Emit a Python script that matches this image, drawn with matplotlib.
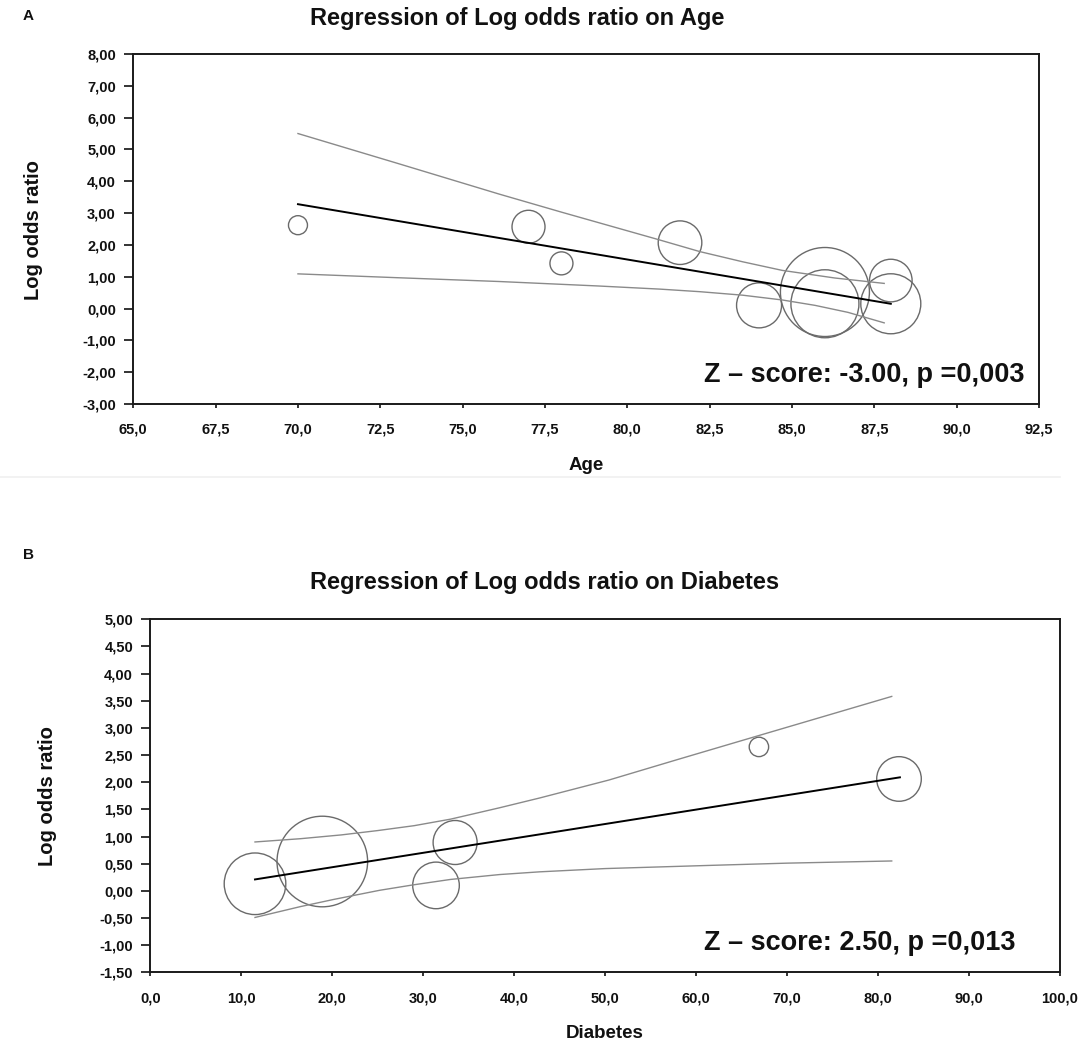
import matplotlib
matplotlib.use("Agg")
import matplotlib.pyplot as plt
from matplotlib.ticker import FuncFormatter, MultipleLocator
from matplotlib.lines import Line2D

plt.rcParams['font.family'] = ['Liberation Sans', 'DejaVu Sans']
plt.rcParams['font.weight'] = 'bold'

# ---------------- Data: panel A (Age) ----------------
age_x = [70.0, 77.0, 78.0, 81.6, 84.0, 86.0, 86.0, 88.0, 88.0]
age_lor = [2.62, 2.57, 1.42, 2.07, 0.10, 0.52, 0.15, 0.88, 0.15]
age_weight = [9.5, 16.5, 11.5, 21.8, 22.5, 44.5, 34.0, 21.3, 30.0]

age_fit_x = [70.0, 88.0]
age_fit_y = [3.28, 0.15]
age_upper_x = [70.0, 73.0, 76.1, 78.0, 80.9, 82.2, 83.5, 84.7, 86.3, 87.8]
age_upper_y = [5.50, 4.57, 3.60, 3.03, 2.18, 1.79, 1.47, 1.20, 0.96, 0.79]
age_lower_x = [70.0, 73.0, 76.1, 79.1, 81.0, 82.2, 83.5, 84.7, 85.7, 86.7, 87.8]
age_lower_y = [1.09, 0.97, 0.85, 0.71, 0.61, 0.53, 0.42, 0.27, 0.10, -0.12, -0.45]

# ---------------- Data: panel B (Diabetes) ----------------
diab_x = [11.5, 18.9, 31.4, 33.5, 66.9, 82.3]
diab_lor = [0.13, 0.54, 0.10, 0.89, 2.65, 2.06]
diab_weight = [30.8, 45.3, 23.3, 22.0, 9.7, 22.3]

diab_fit_x = [11.5, 82.4]
diab_fit_y = [0.21, 2.09]
diab_upper_x = [11.5, 16.5, 21.0, 25.0, 29.0, 33.0, 38.4, 42.8, 50.4, 58.0, 66.9, 74.0, 81.5]
diab_upper_y = [0.90, 0.96, 1.03, 1.11, 1.20, 1.32, 1.53, 1.71, 2.04, 2.42, 2.86, 3.21, 3.58]
diab_lower_x = [11.5, 16.5, 20.1, 25.2, 28.9, 33.0, 38.4, 42.8, 50.0, 61.8, 70.0, 81.5]
diab_lower_y = [-0.49, -0.29, -0.16, 0.01, 0.11, 0.21, 0.30, 0.35, 0.41, 0.47, 0.51, 0.55]

W, H, DPI = 1084, 1045, 100
fig = plt.figure(figsize=(W / DPI, H / DPI), dpi=DPI)
fig.patch.set_facecolor('white')


def fx(px):
    return px / W


def fy(py):
    return 1 - py / H


def comma_fmt(dec):
    return FuncFormatter(lambda v, p: f"{v:.{dec}f}".replace('.', ','))


def make_panel(rect, xlim, xstep, ylim, ystep, xs, ys, ws, fitx, fity,
               upx, upy, lox, loy, ztext, zx):
    ax = fig.add_axes(rect)
    ax.set_xlim(*xlim)
    ax.set_ylim(*ylim)
    ax.xaxis.set_major_locator(MultipleLocator(xstep))
    ax.yaxis.set_major_locator(MultipleLocator(ystep))
    ax.xaxis.set_major_formatter(comma_fmt(1))
    ax.yaxis.set_major_formatter(comma_fmt(2))
    for s in ax.spines.values():
        s.set_linewidth(1.4)
        s.set_color('#1a1a1a')
    ax.tick_params(axis='y', direction='out', length=6.5, width=1.2,
                   pad=6, labelsize=10.5, colors='#111111')
    ax.tick_params(axis='x', direction='out', length=3, width=1.2,
                   pad=10.5, labelsize=10.5, colors='#111111')
    for lab in ax.get_xticklabels() + ax.get_yticklabels():
        lab.set_fontweight('bold')
    sizes = [(2 * w * 0.72) ** 2 for w in ws]
    ax.scatter(xs, ys, s=sizes, facecolors='none', edgecolors='#6a6a6a',
               linewidths=1.0, zorder=2)
    ax.plot(upx, upy, color='#8a8a8a', lw=1.0, zorder=3)
    ax.plot(lox, loy, color='#8a8a8a', lw=1.0, zorder=3)
    ax.plot(fitx, fity, color='#000000', lw=1.4, zorder=4)
    ax.text(zx, 0.083, ztext, transform=ax.transAxes, ha='right', va='center',
            fontsize=19.5, fontweight='bold', color='#111111')
    return ax


# Panel A
axA = make_panel([fx(133.3), fy(404), fx(1039 - 133.3), (404 - 54) / H],
                 (65, 92.5), 2.5, (-3, 8), 1,
                 age_x, age_lor, age_weight, age_fit_x, age_fit_y,
                 age_upper_x, age_upper_y, age_lower_x, age_lower_y,
                 "Z \u2013 score: -3.00, p =0,003", 0.9845)

# Panel B
axB = make_panel([fx(150.4), fy(972.3), fx(1060 - 150.4), (972.3 - 619.3) / H],
                 (0, 100), 10, (-1.5, 5), 0.5,
                 diab_x, diab_lor, diab_weight, diab_fit_x, diab_fit_y,
                 diab_upper_x, diab_upper_y, diab_lower_x, diab_lower_y,
                 "Z \u2013 score: 2.50, p =0,013", 0.9516)

# Titles, panel letters, axis labels
fig.text(fx(310), fy(19), "Regression of Log odds ratio on Age", ha='left',
         va='center', fontsize=17, fontweight='bold', color='#111111')
fig.text(fx(310), fy(582), "Regression of Log odds ratio on Diabetes", ha='left',
         va='center', fontsize=17, fontweight='bold', color='#111111')
fig.text(fx(28.5), fy(15.5), "A", ha='center', va='center', fontsize=11,
         fontweight='bold', color='#111111')
fig.text(fx(28.5), fy(555), "B", ha='center', va='center', fontsize=11,
         fontweight='bold', color='#111111')

fig.text(fx(33.5), fy(230), "Log odds ratio", rotation=90, ha='center',
         va='center', fontsize=14.5, fontweight='bold', color='#111111')
fig.text(fx(47.5), fy(796), "Log odds ratio", rotation=90, ha='center',
         va='center', fontsize=14.5, fontweight='bold', color='#111111')
fig.text(fx(586), fy(465), "Age", ha='center', va='center', fontsize=13.5,
         fontweight='bold', color='#111111')
fig.text(fx(605), fy(1034), "Diabetes", ha='center', va='center', fontsize=13.5,
         fontweight='bold', color='#111111')

# faint separator between panels
fig.add_artist(Line2D([0, fx(1060)], [fy(477), fy(477)], color='#f0f0f0', lw=1.2))

fig.savefig("out.png", dpi=DPI, facecolor='white')
